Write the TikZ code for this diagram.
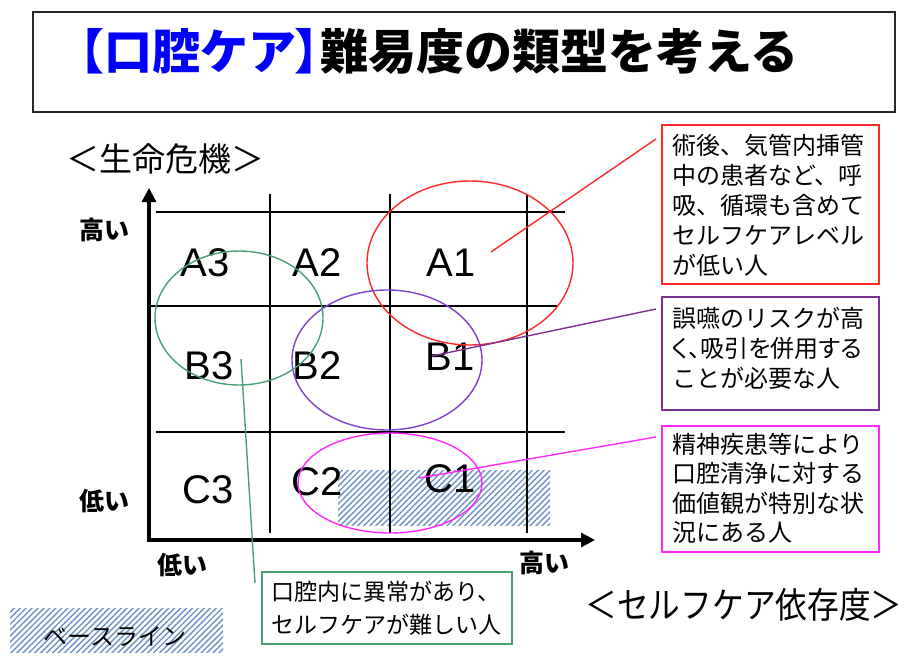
\documentclass[tikz,border=0pt]{standalone}
\usepackage{fontspec}
\setmainfont{Liberation Sans}
\newfontfamily\jp{Noto Sans CJK JP}
\newfontfamily\jpp{Noto Sans CJK JP}[RawFeature=+palt]
\usetikzlibrary{shapes.geometric,arrows.meta,patterns.meta}
\definecolor{titleblue}{RGB}{0,0,255}
\definecolor{titlegray}{RGB}{40,40,40}
\definecolor{cred}{RGB}{255,40,40}
\definecolor{cpurple}{RGB}{128,64,210}
\definecolor{cpurplebox}{RGB}{125,50,145}
\definecolor{cmag}{RGB}{255,40,255}
\definecolor{cgreen}{RGB}{70,160,115}
\definecolor{hatchc}{RGB}{110,145,200}
\tikzset{
  gridline/.style={line width=1.5pt,black},
  cell/.style={font=\fontsize{40}{40}\selectfont},
  oval/.style={ellipse,draw,line width=1.4pt,inner sep=0pt},
  infobox/.style={draw,line width=1.6pt,anchor=north west,inner sep=0pt},
  infotext/.style={anchor=north west,align=left,inner sep=0pt,font=\jp\fontsize{24}{30}\selectfont},
  axlab/.style={font=\jp\bfseries\fontsize{25}{25}\selectfont},
  hatch/.style={pattern={Lines[angle=45,distance=4.2pt,line width=1.4pt]},pattern color=hatchc,inner sep=0pt,anchor=north west},
  conn/.style={line width=1.4pt}
}
\begin{document}
\begin{tikzpicture}[x=1pt,y=-1pt,every node/.style={inner sep=0pt,outer sep=0pt}]
\useasboundingbox (0,0) rectangle (907,658);
\fill[white] (0,0) rectangle (907,658);
% title
\node[draw=titlegray,line width=1.6pt,minimum width=862pt,minimum height=100pt,anchor=north west] (tbox) at (33,12) {};
\node[anchor=west,font=\jp\bfseries\fontsize{48}{48}\selectfont] (title) at (56,51) {\textcolor{titleblue}{【口腔ケア{\jpp\bfseries 】}}難易度の類型を考える};
% baseline hatch
\node[hatch,minimum width=212pt,minimum height=55pt] (base) at (338,470) {};
% grid
\draw[gridline] (156,212) -- (565,212);
\draw[gridline] (149,306) -- (557,306);
\draw[gridline] (156,432) -- (565,432);
\draw[gridline] (270,194) -- (270,533);
\draw[gridline] (390,194) -- (390,533);
\draw[gridline] (527,194) -- (527,533);
% axes
\coordinate (O) at (149,540);
\coordinate (Ytop) at (149,188);
\coordinate (Xend) at (595,540);
\draw[line width=3.2pt,{Triangle[length=14pt,width=14pt]}-{Triangle[length=14pt,width=14pt]}] (Ytop) -- (O) -- (Xend);
% cell labels
\node[cell] (A3) at (205,263) {A3};
\node[cell] (A2) at (317,263) {A2};
\node[cell] (A1) at (451,263) {A1};
\node[cell] (B3) at (209,366) {B3};
\node[cell] (B2) at (317,366) {B2};
\node[cell] (B1) at (450,357) {B1};
\node[cell] (C3) at (208,490) {C3};
\node[cell] (C2) at (317,482) {C2};
\node[cell] (C1) at (450,479) {C1};
% ellipses
\node[oval,draw=cred,minimum width=206pt,minimum height=164pt] (eA) at (470,263) {};
\node[oval,draw=cpurple,minimum width=190pt,minimum height=140pt] (eB) at (387,360) {};
\node[oval,draw=cgreen,minimum width=168pt,minimum height=134pt] (eG) at (239,318) {};
\node[oval,draw=cmag,minimum width=184pt,minimum height=100pt] (eC) at (390,483) {};
% info boxes
\node[infobox,draw=cred,minimum width=217pt,minimum height=159pt] (rbox) at (662,125) {};
\node[infotext] (rtext) at (672,134) {術後、気管内挿管\\中の患者など、呼\\吸、循環も含めて\\セルフケアレベル\\が低い人};
\node[infobox,draw=cpurplebox,minimum width=217pt,minimum height=113pt] (pbox) at (662,297) {};
\node[infotext] (ptext) at (672,307) {誤嚥のリスクが高\\{\jpp く、吸引を併用する}\\ことが必要な人};
\node[infobox,draw=cmag,minimum width=217pt,minimum height=126pt] (mbox) at (662,426) {};
\node[infotext,font=\jp\fontsize{24}{29.5}\selectfont] (mtext) at (672,433) {精神疾患等により\\口腔清浄に対する\\価値観が特別な状\\況にある人};
\node[infobox,draw=cgreen,minimum width=250pt,minimum height=72pt] (gbox) at (262,572) {};
\node[infotext,font=\jp\fontsize{23}{33}\selectfont] (gtext) at (271,581) {口腔内に異常があり、\\セルフケアが難しい人};
% connectors
\coordinate (rs) at (491,252);
\coordinate (re) at (656,139);
\coordinate (ps) at (432,356);
\coordinate (pe) at (656,309);
\coordinate (ms) at (419,478);
\coordinate (me) at (656,437);
\coordinate (gs) at (241,359);
\coordinate (ge) at (255,583);
\draw[conn,cred] (rs) -- (re);
\draw[conn,cpurplebox] (ps) -- (pe);
\draw[conn,cmag] (ms) -- (me);
\draw[conn,cgreen] (gs) -- (ge);
% axis labels
\node[font=\jp\fontsize{33}{33}\selectfont] (ylab) at (165,159) {＜生命危機＞};
\node[axlab] (yhi) at (104,230) {高い};
\node[axlab] (ylo) at (104,501) {低い};
\node[axlab] (xlo) at (182,565) {低い};
\node[axlab] (xhi) at (544,563) {高い};
\node[font=\jp\fontsize{36}{36}\selectfont] (xlab) at (744,605) {\scalebox{0.88}[1]{＜セルフケア依存度＞}};
% legend
\node[hatch,minimum width=213pt,minimum height=44pt] (legend) at (10,608) {};
\node[font=\jp\fontsize{24}{24}\selectfont] (legtext) at (115,637) {ベースライン};
\end{tikzpicture}
\end{document}
